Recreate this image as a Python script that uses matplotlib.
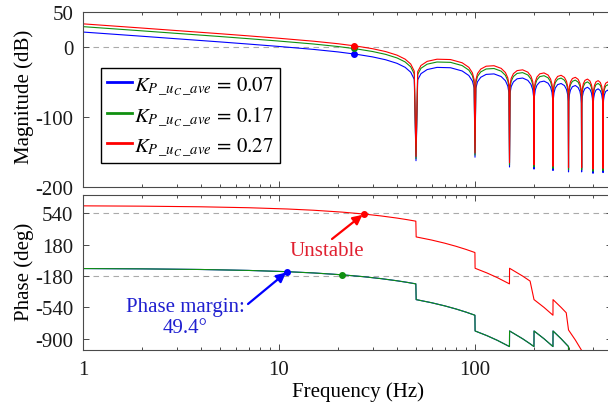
import matplotlib
matplotlib.use("Agg")
import matplotlib.pyplot as plt
from matplotlib.ticker import FixedLocator, LogLocator, NullFormatter

plt.rcParams["font.family"] = ["Liberation Serif", "DejaVu Serif"]
plt.rcParams["mathtext.fontset"] = "stix"
plt.rcParams["font.size"] = 15

# ---------------- data ----------------
kp_values = [0.07, 0.17, 0.27]
series_colors = ["#0000ff", "#109010", "#ff0000"]

mag_freq_hz = [1, 2, 3, 5, 7, 10, 15, 20, 25, 30, 35, 40, 44, 47, 49, 50,
               51, 53, 57, 64, 75, 86, 93, 97, 99, 100,
               101, 103, 107, 114, 125, 136, 143, 147, 149, 150,
               151, 153, 157, 164, 175, 186, 193, 197, 199, 200,
               201, 203, 207, 214, 225, 236, 243, 247, 249, 250,
               251, 253, 257, 264, 275, 286, 293, 297, 299, 300,
               301, 303, 307, 314, 325, 336, 343, 347, 349, 350,
               351, 353, 357, 364, 375, 386, 393, 397, 399, 400,
               401, 403, 407, 414, 425, 436, 443, 447, 449, 450,
               451, 453, 457, 464, 475, 486, 493, 497, 499]

mag_db_kp007 = [21.8, 15.8, 12.2, 7.7, 4.6, 1.2, -3.0, -6.6, -10.1, -13.7, -17.8, -22.9, -28.6, -35.6, -45.8, -162,
                -46.5, -37.7, -31.8, -28.7, -29.2, -33.8, -40.3, -48.2, -58.0, -157,
                -58.4, -49.2, -42.8, -38.7, -38.0, -41.8, -47.8, -55.4, -65.1, -171,
                -65.4, -56.1, -49.4, -45.0, -43.9, -47.2, -53.0, -60.5, -70.2, -174,
                -70.3, -61.0, -54.2, -49.6, -48.3, -51.3, -57.0, -64.4, -74.1, -176,
                -74.2, -64.8, -58.0, -53.3, -51.7, -54.7, -60.3, -67.6, -77.2, -178,
                -77.3, -68.0, -61.1, -56.3, -54.6, -57.5, -63.0, -70.3, -79.9, -178,
                -80.0, -70.6, -63.7, -58.9, -57.1, -59.9, -65.4, -72.7, -82.2, -180,
                -82.3, -72.9, -66.0, -61.1, -59.3, -62.0, -67.4, -74.7, -84.3, -179,
                -84.4, -74.9, -68.0, -63.1, -61.2, -63.9, -69.3, -76.6, -86.1]

mag_db_kp017 = [29.5, 23.5, 19.9, 15.4, 12.3, 8.9, 4.7, 1.1, -2.4, -6.0, -10.1, -15.2, -20.9, -27.9, -38.1, -159,
                -38.8, -30.0, -24.1, -21.0, -21.5, -26.1, -32.6, -40.5, -50.3, -154,
                -50.7, -41.5, -35.1, -31.0, -30.3, -34.1, -40.1, -47.7, -57.4, -168,
                -57.7, -48.4, -41.7, -37.3, -36.2, -39.5, -45.3, -52.8, -62.5, -171,
                -62.6, -53.3, -46.5, -41.9, -40.6, -43.6, -49.3, -56.7, -66.4, -173,
                -66.5, -57.1, -50.3, -45.6, -44.0, -47.0, -52.6, -59.9, -69.5, -175,
                -69.6, -60.3, -53.4, -48.6, -46.9, -49.8, -55.3, -62.6, -72.2, -175,
                -72.3, -62.9, -56.0, -51.2, -49.4, -52.2, -57.7, -65.0, -74.5, -177,
                -74.6, -65.2, -58.3, -53.4, -51.6, -54.3, -59.7, -67.0, -76.6, -176,
                -76.7, -67.2, -60.3, -55.4, -53.5, -56.2, -61.6, -68.9, -78.4]

mag_db_kp027 = [33.5, 27.5, 23.9, 19.4, 16.3, 12.9, 8.7, 5.1, 1.6, -2.0, -6.1, -11.2, -16.9, -23.9, -34.1, -156,
                -34.8, -26.0, -20.1, -17.0, -17.5, -22.1, -28.6, -36.5, -46.3, -151,
                -46.7, -37.5, -31.1, -27.0, -26.3, -30.1, -36.1, -43.7, -53.4, -165,
                -53.7, -44.4, -37.7, -33.3, -32.2, -35.5, -41.3, -48.8, -58.5, -168,
                -58.6, -49.3, -42.5, -37.9, -36.6, -39.6, -45.3, -52.7, -62.4, -170,
                -62.5, -53.1, -46.3, -41.6, -40.0, -43.0, -48.6, -55.9, -65.5, -172,
                -65.6, -56.3, -49.4, -44.6, -42.9, -45.8, -51.3, -58.6, -68.2, -172,
                -68.3, -58.9, -52.0, -47.2, -45.4, -48.2, -53.7, -61.0, -70.5, -174,
                -70.6, -61.2, -54.3, -49.4, -47.6, -50.3, -55.7, -63.0, -72.6, -173,
                -72.7, -63.2, -56.3, -51.4, -49.5, -52.2, -57.6, -64.9, -74.4]

# phase of the two lower-gain loops (identical curves)
phase_freq_hz = [1, 2, 4, 7, 11, 15, 21, 27, 33, 40, 45, 49.9,
                 50.1, 60, 70, 80, 90, 99.9,
                 100.1, 115, 130, 149.9,
                 150.1, 175, 190, 199.9,
                 200.1, 225, 249.9,
                 250.1, 275, 299.9,
                 300.1, 325, 349.9]
phase_deg_low = [-94.6, -98.2, -105.4, -116.2, -130.6, -145.0, -166.6, -188.2, -209.8, -235.0, -253.0, -270.6,
                 -451.4, -487.0, -523.0, -559.0, -595.0, -630.6,
                 -811.4, -865.0, -919.0, -990.6,
                 -811.4, -901.0, -955.0, -990.6,
                 -811.4, -901.0, -990.6,
                 -811.4, -901.0, -990.6,
                 -1171.4, -1261.0, -1350.6]

# phase of the highest-gain loop (unwrapped differently)
phase_freq_hz_red = [1, 2, 4, 7, 11, 15, 21, 27, 33, 40, 45, 49.9,
                     50.1, 60, 70, 80, 90, 99.9,
                     100.1, 115, 130, 149.9,
                     150.1, 175, 191, 200, 225, 249.9,
                     250.1, 275, 292, 300, 325, 350, 350.1, 400]
phase_deg_red = [625.4, 621.8, 614.6, 603.8, 589.4, 575.0, 553.4, 531.8, 510.2, 485.0, 467.0, 449.4,
                 268.6, 233.0, 197.0, 161.0, 125.0, 89.4,
                 -91.4, -145.0, -199.0, -270.6,
                 -91.4, -181.0, -238.6, -451.0, -541.0, -630.6,
                 -451.4, -541.0, -602.2, -800.0, -915.0, -1035.0, -1215.0, -1395.0]

# crossover markers
mag_marker_freq_hz = 24
mag_marker_db = [-9.4, -1.7, 2.3]
phase_margin_deg = 49.4
phase_marker_freq_hz = [11, 21, 27]
phase_marker_deg = [-180 + phase_margin_deg, -166.6, 531.8]

mag_yticks = [-200, -100, 0, 50]
phase_yticks = [-900, -540, -180, 180, 540]
freq_ticks = [1, 10, 100]
freq_ticklabels = ["1", "10", "100"]

# ---------------- figure ----------------
W, H = 608, 414
fig = plt.figure(figsize=(W / 100, H / 100), dpi=100)
left = 83 / W
width = (612 - 83) / W
ax_mag = fig.add_axes([left, (H - 188.3) / H, width, 175 / H])
ax_ph = fig.add_axes([left, (H - 351) / H, width, 155 / H])

spine_col = "#4a4a4a"
for ax in (ax_mag, ax_ph):
    ax.set_xscale("log")
    ax.set_xlim(1, 500)
    for s in ax.spines.values():
        s.set_color(spine_col)
        s.set_linewidth(0.8)
    ax.tick_params(which="both", direction="in", top=True, right=True,
                   color=spine_col, labelcolor="#1a1a1a", width=0.7)
    ax.tick_params(which="major", length=4, pad=7)
    ax.tick_params(which="minor", length=2.5)
    ax.xaxis.set_major_locator(FixedLocator(freq_ticks))
    ax.xaxis.set_minor_locator(LogLocator(base=10, subs=range(2, 10)))
    ax.xaxis.set_minor_formatter(NullFormatter())

mag_series = [mag_db_kp007, mag_db_kp017, mag_db_kp027]
labels = [r"$K_{P\,\_u_{C}\,\_ave}\,=\,%.2f$" % k for k in kp_values]

# magnitude
ax_mag.axhline(0, color="#aaaaaa", lw=0.8, ls=(0, (5, 4)), zorder=1)
for mag, col, lab in zip(mag_series, series_colors, labels):
    ax_mag.plot(mag_freq_hz, mag, color=col, lw=0.8, label=lab, zorder=2)
for val, col in zip(mag_marker_db, series_colors):
    ax_mag.plot([mag_marker_freq_hz], [val], "o", color=col, ms=4, zorder=4)
ax_mag.set_ylim(-200, 50)
ax_mag.set_yticks(mag_yticks)
ax_mag.set_yticklabels([str(v) for v in mag_yticks])
ax_mag.tick_params(axis="x", labelbottom=False)

leg = ax_mag.legend(loc="upper left", bbox_to_anchor=(101 / W, 1 - 69 / H),
                    bbox_transform=fig.transFigure, borderaxespad=0,
                    frameon=True, fancybox=False, framealpha=1,
                    edgecolor="black", handlelength=1.2, handletextpad=0.1,
                    borderpad=0.3, labelspacing=0.4, fontsize=15)
leg.get_frame().set_linewidth(1.0)
for ln in leg.get_lines():
    ln.set_linewidth(2.0)

# phase
ax_ph.axhline(540, color="#aaaaaa", lw=0.8, ls=(0, (5, 4)), zorder=1)
ax_ph.axhline(-180, color="#aaaaaa", lw=0.8, ls=(0, (5, 4)), zorder=1)
ax_ph.plot(phase_freq_hz, phase_deg_low, color=series_colors[0], lw=0.8, zorder=2)
ax_ph.plot(phase_freq_hz, phase_deg_low, color=series_colors[1], lw=0.8, zorder=2)
ax_ph.plot(phase_freq_hz_red, phase_deg_red, color=series_colors[2], lw=0.8, zorder=2)
for f, p, col in zip(phase_marker_freq_hz, phase_marker_deg, series_colors):
    ax_ph.plot([f], [p], "o", color=col, ms=4, zorder=4)
ax_ph.set_ylim(-1030, 750)
ax_ph.set_yticks(phase_yticks)
ax_ph.set_yticklabels([str(v) for v in phase_yticks])
ax_ph.set_xticklabels(freq_ticklabels)

# annotations
ax_ph.annotate("", xy=(phase_marker_freq_hz[2], phase_marker_deg[2]),
               xytext=(332, H - 240), textcoords="figure pixels",
               arrowprops=dict(arrowstyle="-|>", color="#ff0000", lw=1.6,
                               mutation_scale=14, shrinkA=0, shrinkB=1))
fig.text(327 / W, 1 - 252 / H, "Unstable", color="#e02030",
         ha="center", va="center", fontsize=15)

ax_ph.annotate("", xy=(phase_marker_freq_hz[0], phase_marker_deg[0]),
               xytext=(248, H - 305), textcoords="figure pixels",
               arrowprops=dict(arrowstyle="-|>", color="#0000ff", lw=1.6,
                               mutation_scale=14, shrinkA=0, shrinkB=1))
fig.text(185 / W, 1 - 318 / H, "Phase margin:\n%.1f°" % phase_margin_deg,
         color="#2020d0", ha="center", va="center", multialignment="center",
         fontsize=15, linespacing=1.2)

# axis titles
fig.text(24 / W, 1 - 97 / H, "Magnitude (dB)", rotation=90, ha="center", va="center", fontsize=15)
fig.text(24 / W, 1 - 272 / H, "Phase (deg)", rotation=90, ha="center", va="center", fontsize=15)
fig.text(358 / W, 1 - 392 / H, "Frequency (Hz)", ha="center", va="center", fontsize=15)

fig.savefig("out.png", dpi=100)
